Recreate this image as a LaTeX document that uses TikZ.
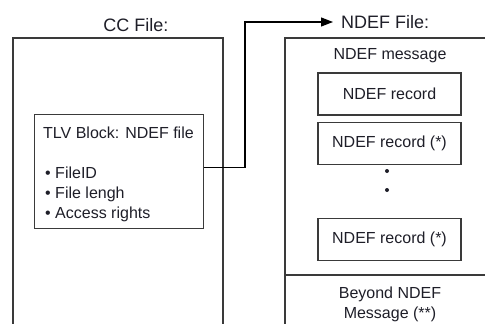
\documentclass[tikz,border=0pt]{standalone}
\usepackage{fontspec}
\setmainfont{Liberation Sans}
\usetikzlibrary{arrows.meta, positioning}
\definecolor{cline}{HTML}{3a3a3a}
\definecolor{ctext}{HTML}{1e1e28}

\begin{document}
\begin{tikzpicture}[
  x=1pt, y=-1pt,
  font=\fontsize{16}{20}\selectfont,
  >={Triangle[length=12pt, width=9pt]},
  frame/.style={draw=cline, line width=1.3pt},
  box/.style={draw=cline, line width=1.2pt, inner sep=0pt},
  rec/.style={box, minimum width=143pt, minimum height=42pt, text=ctext},
  lbl/.style={inner sep=0pt, text=ctext},
  ttl/.style={lbl, font=\fontsize{18}{22}\selectfont},
  dot/.style={circle, fill=ctext, inner sep=0pt, minimum size=4pt},
  arr/.style={->, draw=black, line width=1.2pt},
  ]
\useasboundingbox (0,0) rectangle (485,324);

% CC file side
\node[ttl, anchor=base] (cctitle) at (136,31) {CC File:};
\draw[frame] (13,324) -- (13,38) -- (223,38) -- (223,324);
\node[box, anchor=north west, minimum width=169pt, minimum height=114pt] (tlv) at (34,114) {};
\node[lbl, anchor=base west] (tlvtitle) at (43,138) {TLV Block: NDEF file};
\node[lbl, anchor=base west] (fid) at (45,178) {• FileID};
\node[lbl, anchor=base west] (flen) at (45,198) {• File lengh};
\node[lbl, anchor=base west] (facc) at (45,218) {• Access rights};

% NDEF file side
\node[ttl, anchor=west, inner xsep=8pt] (ndeftitle) at (333,22) {NDEF File:};
\draw[frame] (285,324) -- (285,38) -- (485,38);
\draw[frame] (285,275) -- (485,275);
\node[lbl] (msg) at (390,56) {NDEF message};
\node[rec] (rec1) at (389.5,94) {NDEF record};
\node[rec, below=6pt of rec1] (rec2) {NDEF record (*)};
\node[dot] (dot1) at (387,171) {};
\node[dot] (dot2) at (387,190) {};
\node[rec] (rec3) at (389.5,239.5) {NDEF record (*)};
\node[lbl, align=center] (beyond) at (390,304) {Beyond NDEF\\Message (**)};

\coordinate (bend) at (245,22);
\draw[arr] ([yshift=4pt]tlv.east) -| (bend) -- (ndeftitle.west);
\end{tikzpicture}
\end{document}
